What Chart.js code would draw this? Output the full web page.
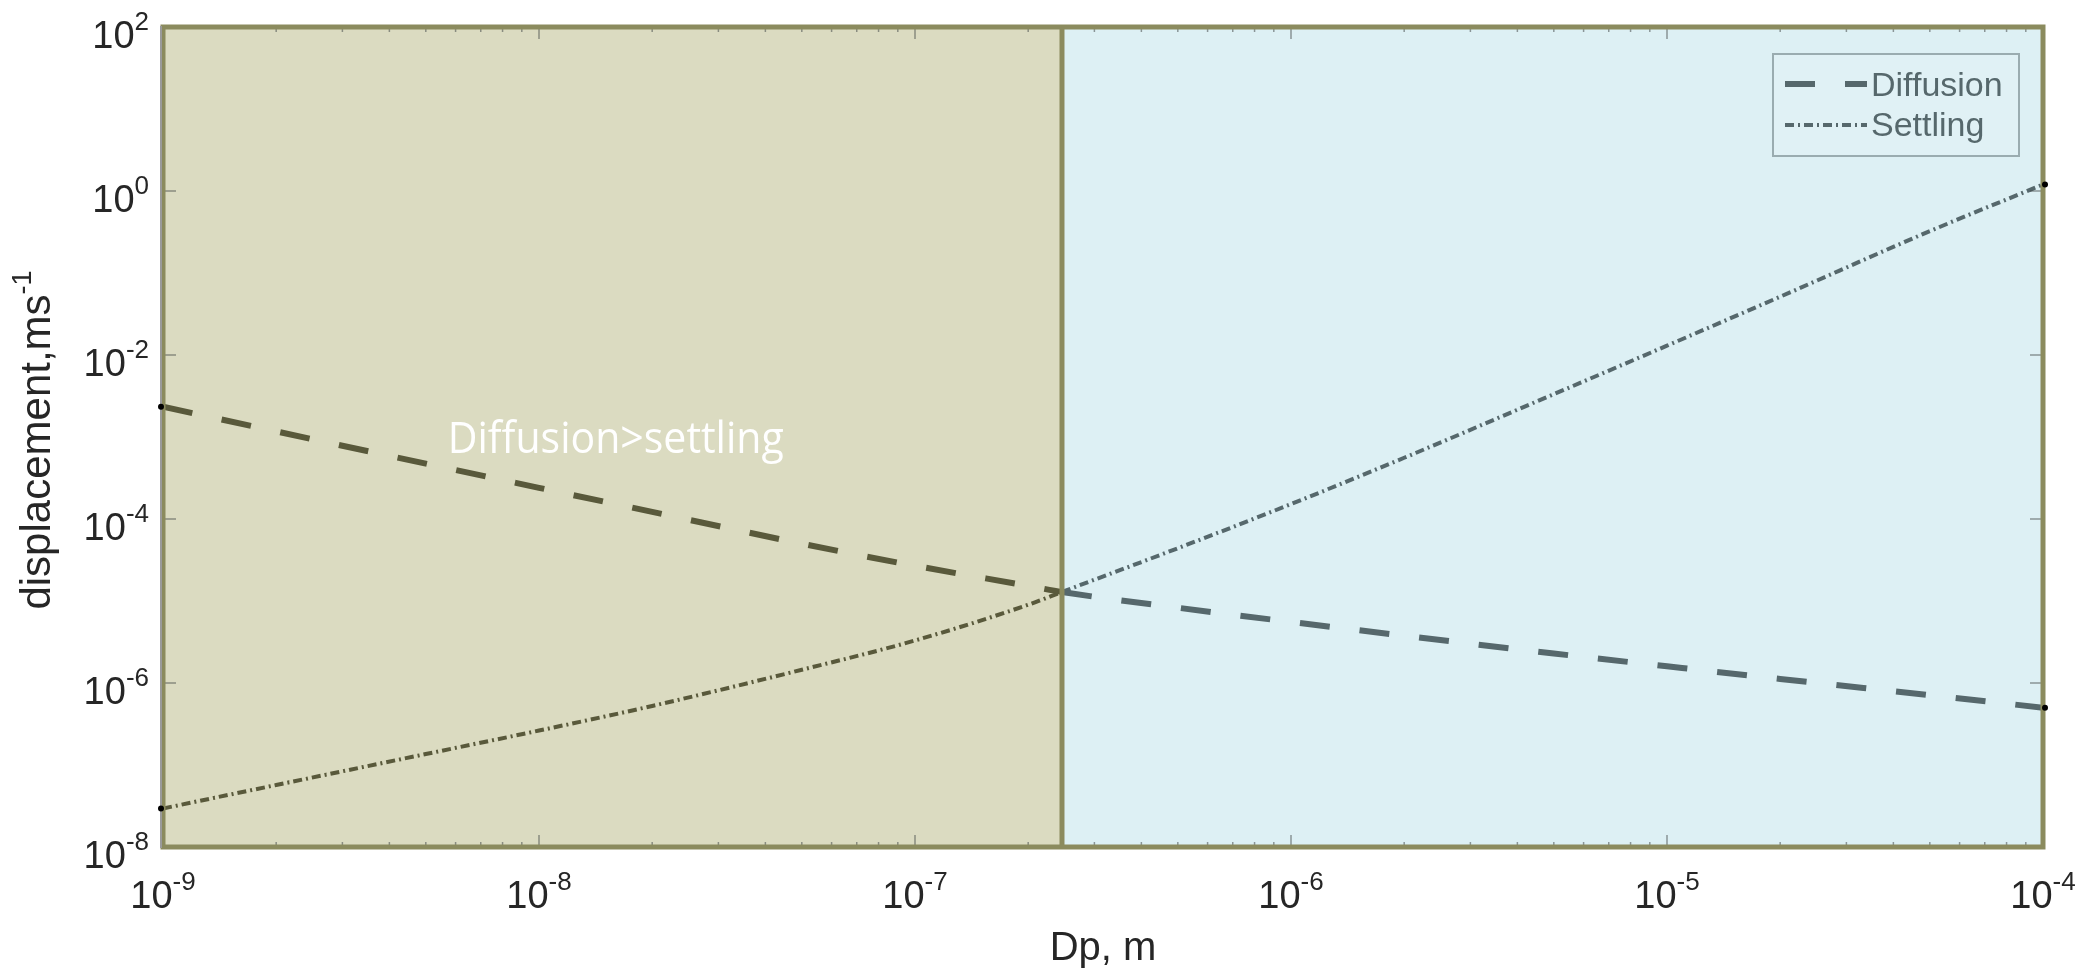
<!DOCTYPE html>
<html>
<head>
<meta charset="utf-8">
<script src="https://cdn.jsdelivr.net/npm/chart.js@4.4.1/dist/chart.umd.min.js"></script>
<style>
  html, body { margin: 0; padding: 0; background: #fff; }
  #wrap { width: 2093px; height: 972px; position: relative; }
</style>
</head>
<body>
<div id="wrap"><canvas id="chart"></canvas></div>
<script>
// particle diameter Dp, m
const diameters = [1e-9, 2e-9, 5e-9, 1e-8, 2e-8, 5e-8, 1e-7, 2e-7, 2.46e-7, 5e-7, 1e-6, 2e-6, 5e-6, 1e-5, 2e-5, 5e-5, 1e-4];
// displacement
const diffusion = [2.34e-3, 1.17e-3, 4.73e-4, 2.4e-4, 1.22e-4, 5.0e-5, 2.69e-5, 1.53e-5, 1.29e-5, 8.28e-6, 5.55e-6, 3.77e-6, 2.29e-6, 1.6e-6, 1.12e-6, 7.1e-7, 5.0e-7];
const settling = [2.95e-8, 5.7e-8, 1.36e-7, 2.63e-7, 5.25e-7, 1.45e-6, 3.3e-6, 9.0e-6, 1.29e-5, 4.4e-5, 1.52e-4, 5.58e-4, 3.33e-3, 1.3e-2, 5.14e-2, 0.324, 1.2];
// where the two curves cross (shading boundary)
const crossover = 2.46e-7;
const xTickExp = [-9, -8, -7, -6, -5, -4];
const yTickExp = [2, 0, -2, -4, -6, -8];
const seriesNames = ['Diffusion', 'Settling'];
const noteText = 'Diffusion>settling';

const OLIVE_BG = '#dbdbc1';
const BLUE_BG = '#ddf0f4';
const OLIVE_EDGE = '#8b8b5e';
const OLIVE_LINE = '#59593b';
const SLATE_LINE = '#56686c';
const FONT = '"Liberation Sans", Arial, Helvetica, sans-serif';

const segColor = c => c.p0.parsed.x < crossover * 0.999 ? OLIVE_LINE : SLATE_LINE;

function drawPow(ctx, exp, x, y, align) {
  // "10" with a raised exponent, y = baseline of "10"
  ctx.font = '38px ' + FONT;
  const wb = ctx.measureText('10').width;
  ctx.font = '26px ' + FONT;
  const we = ctx.measureText(String(exp)).width;
  const left = align === 'center' ? x - (wb + we) / 2 : x - (wb + we);
  ctx.textAlign = 'left';
  ctx.textBaseline = 'alphabetic';
  ctx.font = '38px ' + FONT;
  ctx.fillText('10', left, y);
  ctx.font = '26px ' + FONT;
  ctx.fillText(String(exp), left + wb, y - 18);
}

function line(ctx, x1, y1, x2, y2) {
  ctx.beginPath();
  ctx.moveTo(x1, y1);
  ctx.lineTo(x2, y2);
  ctx.stroke();
}

const decor = {
  id: 'decor',
  beforeDatasetsDraw(chart) {
    const { ctx, chartArea: a, scales: { x, y } } = chart;
    const xd = x.getPixelForValue(crossover);
    ctx.save();
    ctx.fillStyle = OLIVE_BG;
    ctx.fillRect(a.left, a.top, xd - a.left, a.bottom - a.top);
    ctx.fillStyle = BLUE_BG;
    ctx.fillRect(xd, a.top, a.right - xd, a.bottom - a.top);

    // region note
    const nx = x.getPixelForValue(1.6e-8);
    const ny = y.getPixelForValue(9e-4);
    ctx.font = '44px "Open Sans", "Noto Sans", sans-serif';
    const w = ctx.measureText(noteText).width;
    ctx.translate(nx, ny);
    ctx.scale(336 / w, 1);
    ctx.fillStyle = '#ffffff';
    ctx.textAlign = 'center';
    ctx.textBaseline = 'middle';
    ctx.fillText(noteText, 0, 0);
    ctx.restore();
  },
  afterDatasetsDraw(chart) {
    const { ctx, chartArea: a, scales: { x, y } } = chart;
    const xd = x.getPixelForValue(crossover);
    ctx.save();

    // inward ticks
    ctx.strokeStyle = 'rgba(70,75,75,0.55)';
    ctx.lineWidth = 1.5;
    for (let e = -9; e <= -4; e++) {
      for (let m = 1; m < 10; m++) {
        const v = m * Math.pow(10, e);
        if (v > 1.0001e-4) break;
        const px = x.getPixelForValue(v);
        const len = m === 1 ? 12 : 5;
        line(ctx, px, a.bottom, px, a.bottom - len);
        line(ctx, px, a.top, px, a.top + len);
      }
    }
    yTickExp.forEach(e => {
      const py = y.getPixelForValue(Math.pow(10, e));
      line(ctx, a.left, py, a.left + 13, py);
      line(ctx, a.right, py, a.right - 13, py);
    });

    // divider and frame
    ctx.strokeStyle = OLIVE_EDGE;
    ctx.lineWidth = 5;
    line(ctx, xd, a.top, xd, a.bottom);
    ctx.strokeRect(a.left, a.top, a.right - a.left, a.bottom - a.top);
    ctx.strokeStyle = '#9a9a9a';
    ctx.lineWidth = 2;
    line(ctx, a.left - 2, a.top - 1, a.left - 2, a.bottom + 1);

    // end dots
    ctx.fillStyle = '#000';
    chart.data.datasets.forEach((ds, i) => {
      const pts = chart.getDatasetMeta(i).data;
      [pts[0], pts[pts.length - 1]].forEach(p => {
        ctx.beginPath();
        ctx.arc(p.x - (p === pts[0] ? 2 : -2), p.y, 3, 0, Math.PI * 2);
        ctx.fill();
      });
    });

    // tick labels
    ctx.fillStyle = '#262626';
    xTickExp.forEach(e => drawPow(ctx, e, x.getPixelForValue(Math.pow(10, e)), a.bottom + 61, 'center'));
    yTickExp.forEach(e => drawPow(ctx, e, 149, y.getPixelForValue(Math.pow(10, e)) + 21, 'right'));

    // axis titles
    ctx.fillStyle = '#262626';
    ctx.font = '40px ' + FONT;
    ctx.textAlign = 'center';
    ctx.textBaseline = 'alphabetic';
    ctx.fillText('Dp, m', (a.left + a.right) / 2, 960);

    ctx.save();
    ctx.translate(50, (a.top + a.bottom) / 2 + 3);
    ctx.rotate(-Math.PI / 2);
    ctx.font = '42px ' + FONT;
    const wm = ctx.measureText('displacement,ms').width;
    ctx.font = '27px ' + FONT;
    const ws = ctx.measureText('-1').width;
    const l0 = -(wm + ws) / 2;
    ctx.textAlign = 'left';
    ctx.font = '42px ' + FONT;
    ctx.fillText('displacement,ms', l0, 0);
    ctx.font = '27px ' + FONT;
    ctx.fillText('-1', l0 + wm, -19);
    ctx.restore();

    // legend
    const lx = 1773, ly = 54, lw = 246, lh = 102;
    ctx.fillStyle = '#e0f1f5';
    ctx.fillRect(lx, ly, lw, lh);
    ctx.strokeStyle = '#9aacb0';
    ctx.lineWidth = 2;
    ctx.strokeRect(lx, ly, lw, lh);
    chart.data.datasets.forEach((ds, i) => {
      const cy = i === 0 ? 84 : 125;
      ctx.strokeStyle = SLATE_LINE;
      ctx.lineWidth = ds.borderWidth;
      ctx.setLineDash(ds.borderDash);
      line(ctx, 1785, cy, 1867, cy);
      ctx.setLineDash([]);
      ctx.fillStyle = '#56686c';
      ctx.font = '34px ' + FONT;
      ctx.textAlign = 'left';
      ctx.fillText(ds.label, 1871, i === 0 ? 96 : 136);
    });
    ctx.restore();
  }
};

new Chart(document.getElementById('chart'), {
  type: 'line',
  data: {
    datasets: [
      {
        label: seriesNames[0],
        data: diameters.map((d, i) => ({ x: d, y: diffusion[i] })),
        borderWidth: 6,
        borderDash: [30, 30],
        borderColor: SLATE_LINE,
        segment: { borderColor: segColor },
        pointRadius: 0,
        cubicInterpolationMode: 'monotone'
      },
      {
        label: seriesNames[1],
        data: diameters.map((d, i) => ({ x: d, y: settling[i] })),
        borderWidth: 4,
        borderDash: [9, 4, 2, 4],
        borderColor: SLATE_LINE,
        segment: { borderColor: segColor },
        pointRadius: 0,
        cubicInterpolationMode: 'monotone'
      }
    ]
  },
  options: {
    responsive: true,
    maintainAspectRatio: false,
    animation: false,
    layout: { padding: { left: 163, right: 50, top: 27, bottom: 125 } },
    scales: {
      x: { type: 'logarithmic', min: 1e-9, max: 1e-4, display: false },
      y: { type: 'logarithmic', min: 1e-8, max: 1e2, display: false }
    },
    plugins: { legend: { display: false }, tooltip: { enabled: false } }
  },
  plugins: [decor]
});
</script>
</body>
</html>
